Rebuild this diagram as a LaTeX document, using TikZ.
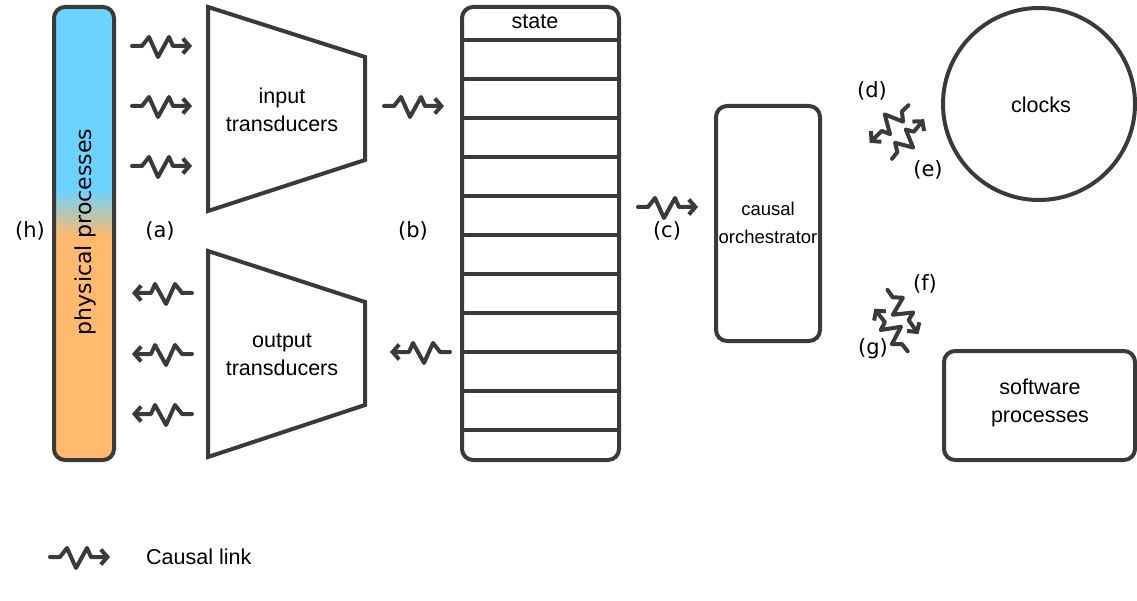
\documentclass[tikz,border=0pt]{standalone}
\usepackage{fontspec}
\setmainfont{Liberation Sans}
\newfontfamily\labelfont{DejaVu Sans}
\usetikzlibrary{arrows.meta}

\definecolor{linegray}{RGB}{58,58,58}
\definecolor{procblue}{RGB}{108,210,255}
\definecolor{procorange}{RGB}{255,186,110}

\tikzset{
    box/.style={draw=linegray, line width=4pt, rounded corners=11pt},
    rowline/.style={draw=linegray, line width=4pt},
    linkline/.style={draw=linegray, line width=4pt, line cap=round, line join=round},
    clink/.pic={\draw[linkline, -{Straight Barb[length=6.5pt,width=15pt]}]
        (-30,0) -- (-20,0) -- (-13,-9) -- (-4,11) -- (7,-9) -- (11,0) -- (30,0);},
    txt/.style={font=\fontsize{21.5}{28}\selectfont, align=center, inner sep=0pt},
    lbl/.style={font=\labelfont\fontsize{21}{24}\selectfont, inner sep=0pt}
}

\begin{document}
\begin{tikzpicture}[x=1pt, y=-1pt]
    \useasboundingbox (0,0) rectangle (1137,601);

    % Physical processes
    \path[box, path picture={
        \fill[procblue] (40,0) rectangle (130,190);
        \shade[top color=procblue, bottom color=procorange] (40,190) rectangle (130,236);
        \fill[procorange] (40,236) rectangle (130,470);
    }] (54,7) rectangle (114,460);
    \node[lbl, font=\labelfont\fontsize{22}{24}\selectfont, rotate=90] (phys) at (85,232) {physical processes};

    % Transducers
    \draw[rowline] (208,7) -- (365,57) -- (365,160) -- (208,211) -- cycle;
    \draw[rowline] (208,251) -- (365,302) -- (365,405) -- (208,457) -- cycle;
    \node[txt] (intrans) at (282,110) {input\\transducers};
    \node[txt] (outtrans) at (282,355) {output\\transducers};

    % State
    \draw[box] (462,7) rectangle (619,460);
    \foreach \y in {40,79,...,430}
        \draw[rowline] (462,\y) -- (619,\y);
    \node[txt] (state) at (535,22) {state};

    % Orchestrator, clocks, software
    \draw[box] (716,106) rectangle (820,341);
    \node[txt, font=\fontsize{18.5}{28}\selectfont] (orch) at (768,223) {causal\\orchestrator};
    \draw[linegray, line width=4pt] (1039,104) circle (96);
    \node[txt] (clocks) at (1041,105) {clocks};
    \draw[box] (944,351) rectangle (1135,460);
    \node[txt] (soft) at (1040,403) {software\\processes};

    % Causal links
    \foreach \y in {46,106,166}
        \pic at (162,\y) {clink};
    \foreach \y in {293,354,414}
        \pic[xscale=-1] at (162,\y) {clink};
    \pic at (414,106) {clink};
    \pic[xscale=-1] at (420,352) {clink};
    \pic at (668,207) {clink};
    \pic[rotate=51, scale=0.85] at (908,139) {clink};
    \pic[rotate=224, scale=0.9] at (889,124) {clink};
    \pic[rotate=-55, scale=0.9] at (903,312) {clink};
    \pic[rotate=128, scale=0.9] at (891,330) {clink};

    % Labels
    \node[lbl] (h) at (30,231) {(h)};
    \node[lbl] (a) at (160,231) {(a)};
    \node[lbl] (b) at (413,231) {(b)};
    \node[lbl] (c) at (667,231) {(c)};
    \node[lbl] (d) at (872,91) {(d)};
    \node[lbl] (e) at (928,170) {(e)};
    \node[lbl] (f) at (925,284) {(f)};
    \node[lbl] (g) at (873,349) {(g)};

    % Legend
    \pic at (80,557) {clink};
    \node[txt, anchor=west] (legend) at (146,557) {Causal link};
\end{tikzpicture}
\end{document}
